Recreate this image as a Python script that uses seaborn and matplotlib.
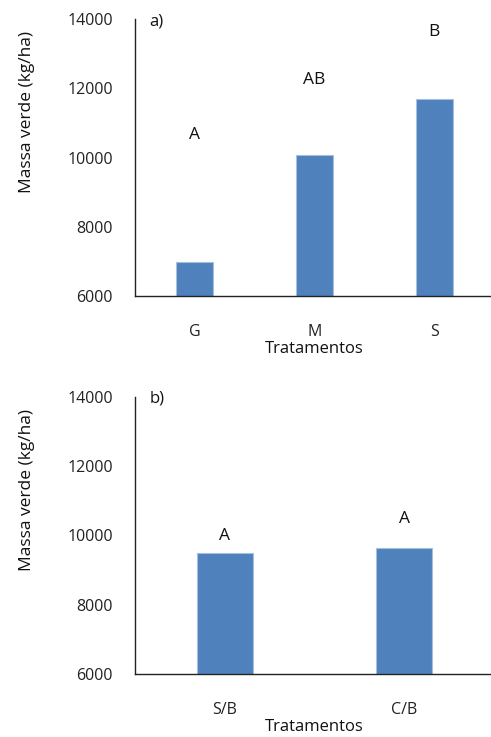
# Massa verde por tratamento - dois paineis (a e b)
import pandas as pd
import seaborn as sns
import matplotlib.pyplot as plt

# Dados
trat_a = ["G", "M", "S"]
massa_a = [7000, 10080, 11700]
letras_a = ["A", "AB", "B"]
letras_a_y = [10650, 12240, 13620]

trat_b = ["S/B", "C/B"]
massa_b = [9500, 9650]
letras_b = ["A", "A"]
letras_b_y = [9990, 10470]

df_a = pd.DataFrame({"Tratamentos": trat_a, "Massa": massa_a})
df_b = pd.DataFrame({"Tratamentos": trat_b, "Massa": massa_b})

sns.set_style("white")
plt.rcParams["font.family"] = ["Open Sans", "DejaVu Sans"]

fig = plt.figure(figsize=(4.91, 7.37), dpi=100)
ax1 = fig.add_axes([0.275, 0.598, 0.731, 0.376])
ax2 = fig.add_axes([0.275, 0.0855, 0.731, 0.376])

paineis = [
    (ax1, df_a, letras_a, letras_a_y, "a)"),
    (ax2, df_b, letras_b, letras_b_y, "b)"),
]

for ax, df, letras, letras_y, tag in paineis:
    sns.barplot(data=df, x="Tratamentos", y="Massa", color="#4F81BD",
                width=0.31, edgecolor="#A7BFDE", linewidth=0.8,
                saturation=1, ax=ax)
    n = len(df)
    ax.set_xlim(-0.5, n - 0.5)
    ax.set_ylim(6000, 14000)
    ax.set_yticks([6000, 8000, 10000, 12000, 14000])
    for i, (txt, yy) in enumerate(zip(letras, letras_y)):
        ax.text(i, yy, txt, ha="center", va="center", fontsize=12.5, color="#111111")
    ax.text(0.04, 0.993, tag, transform=ax.transAxes, ha="left", va="center",
            fontsize=12, color="#111111")
    for s in ["top", "right"]:
        ax.spines[s].set_visible(False)
    for s in ["left", "bottom"]:
        ax.spines[s].set_color("#222222")
        ax.spines[s].set_linewidth(1.0)
    ax.tick_params(axis="both", length=0, labelsize=11.5, colors="#222222")
    ax.tick_params(axis="y", pad=16)
    ax.tick_params(axis="x", pad=20)
    ax.set_xlabel("Tratamentos", fontsize=12, labelpad=1, color="#111111")
    ax.set_ylabel("Massa verde (kg/ha)", fontsize=12.5, color="#111111")
    ax.yaxis.set_label_coords(-0.278, 0.664)

fig.savefig("out.png", dpi=100)
